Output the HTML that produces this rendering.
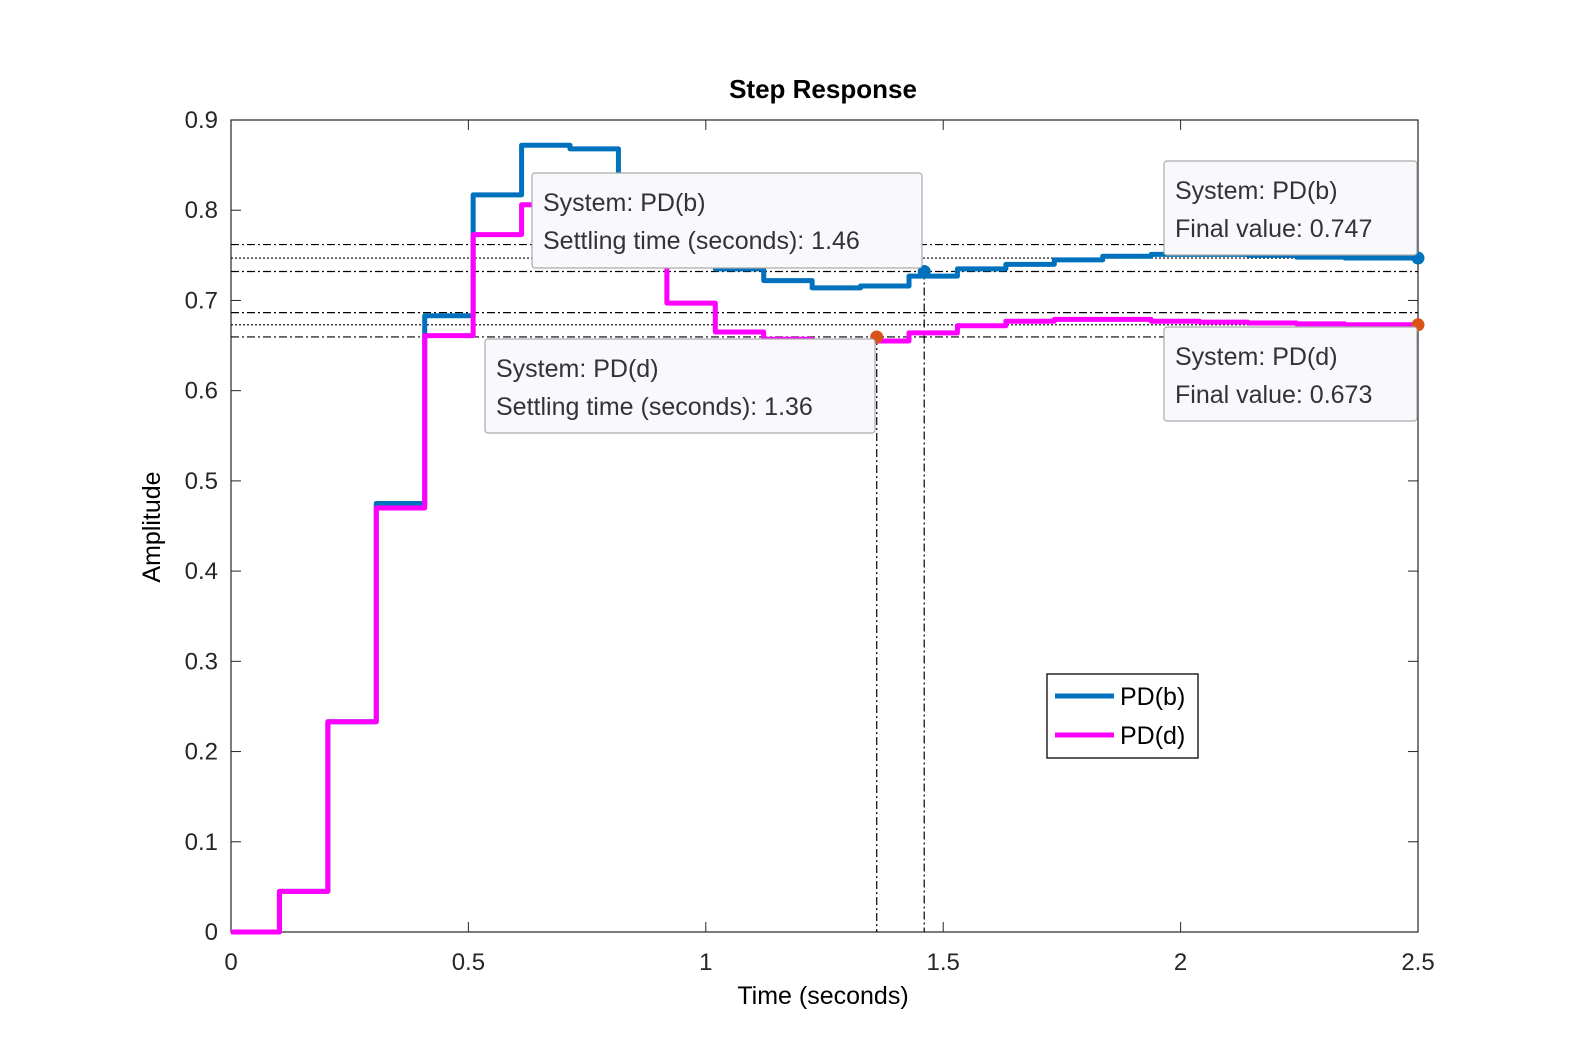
<!DOCTYPE html>
<html><head><meta charset="utf-8"><style>
html,body{margin:0;padding:0;background:#fff;width:1592px;height:1063px;overflow:hidden;font-family:"Liberation Sans",sans-serif}
svg{display:block}
svg text{font-family:"Liberation Sans",sans-serif}
</style></head><body>
<svg id="chart" width="1592" height="1063"></svg>
<script>
const Ts = 0.102;
const pdB = [0,0.045,0.233,0.475,0.683,0.817,0.872,0.868,0.80,0.76,0.735,0.722,0.714,0.716,0.727,0.735,0.740,0.745,0.749,0.751,0.751,0.750,0.748,0.747,0.747];
const pdD = [0,0.045,0.233,0.470,0.661,0.773,0.806,0.79,0.75,0.697,0.665,0.657,0.655,0.655,0.664,0.672,0.677,0.679,0.679,0.677,0.676,0.675,0.674,0.673,0.673];
const xTicks = [0,0.5,1,1.5,2,2.5];
const yTicks = [0,0.1,0.2,0.3,0.4,0.5,0.6,0.7,0.8,0.9];
const finalB = 0.747, finalD = 0.673, settleB = 1.46, settleD = 1.36;

const X0=231,X1=1418,Y0=932,Y1=120;
const sx=t=>X0+(t/2.5)*(X1-X0);
const sy=v=>Y0-(v/0.9)*(Y0-Y1);
const svg=document.getElementById('chart');
const NS='http://www.w3.org/2000/svg';
function mk(tag,attrs,parent){const e=document.createElementNS(NS,tag);for(const k in attrs)e.setAttribute(k,attrs[k]);(parent||svg).appendChild(e);return e;}

const box=mk('rect',{x:X0,y:Y1,width:X1-X0,height:Y0-Y1,fill:'#fff',stroke:'#262626','stroke-width':1.2});


xTicks.forEach(t=>{
  const x=sx(t);
  mk('line',{x1:x,y1:Y0,x2:x,y2:Y0-10,stroke:'#262626'});
  mk('line',{x1:x,y1:Y1,x2:x,y2:Y1+10,stroke:'#262626'});
  const tx=mk('text',{x:x,y:970,'font-size':24,fill:'#262626','text-anchor':'middle'});
  tx.textContent=String(t);
  
  
});
yTicks.forEach(v=>{
  const y=sy(v);
  mk('line',{x1:X0,y1:y,x2:X0+10,y2:y,stroke:'#262626'});
  mk('line',{x1:X1,y1:y,x2:X1-10,y2:y,stroke:'#262626'});
  const tx=mk('text',{x:218,y:y+8,'font-size':24,fill:'#262626','text-anchor':'end'});
  tx.textContent=String(v);
  
  
});

function hline(v,dash){mk('line',{x1:X0,y1:sy(v),x2:X1,y2:sy(v),stroke:'#000','stroke-width':1.2,'stroke-dasharray':dash});}
[[finalB*1.02,'8,3,2,3'],[finalB,'2,2'],[finalB*0.98,'8,3,2,3'],[finalD*1.02,'8,3,2,3'],[finalD,'2,2'],[finalD*0.98,'8,3,2,3']].forEach(a=>hline(a[0],a[1]));
function vline(t,v){mk('line',{x1:sx(t),y1:sy(v),x2:sx(t),y2:Y0,stroke:'#000','stroke-width':1.2,'stroke-dasharray':'8,3,2,3'});}
vline(settleD,finalD*0.98); vline(settleB,finalB*0.98);

function stairs(vals,color,name){
  let d='M'+sx(0)+','+sy(vals[0]);
  for(let k=0;k<vals.length;k++){
    const tEnd=Math.min((k+1)*Ts,2.5);
    d+=' L'+sx(k*Ts)+','+sy(vals[k])+' L'+sx(tEnd)+','+sy(vals[k]);
  }
  const p=mk('path',{d:d,fill:'none',stroke:color,'stroke-width':5,'stroke-linejoin':'round'});
  
  
}
stairs(pdB,'#0072BD','series-pd-b');
stairs(pdD,'#FF00FF','series-pd-d');

function dot(t,v,c,name){const e=mk('circle',{cx:sx(t),cy:sy(v),r:6.5,fill:c});}
dot(settleB,finalB*0.98,'#0072BD','settling-marker-b');
dot(settleD,finalD*0.98,'#D95319','settling-marker-d');
dot(2.5,finalB,'#0072BD','final-marker-b');
dot(2.5,finalD,'#D95319','final-marker-d');

function tip(x,y,w,h,l1,l2,name){
  const g=mk('g',{});
  
  
  mk('rect',{x:x,y:y,width:w,height:h,rx:3,fill:'#f8f8fd',stroke:'#aaa','stroke-width':1.2},g);
  const a=mk('text',{x:x+11,y:y+38,'font-size':25,fill:'#333'},g);a.textContent=l1;
  const b=mk('text',{x:x+11,y:y+76,'font-size':25,fill:'#333'},g);b.textContent=l2;
}
tip(532,173,390,95,'System: PD(b)','Settling time (seconds): 1.46','datatip-settling-b');
tip(485,339,390,94,'System: PD(d)','Settling time (seconds): 1.36','datatip-settling-d');
tip(1164,161,253,94,'System: PD(b)','Final value: 0.747','datatip-final-b');
tip(1164,327,253,94,'System: PD(d)','Final value: 0.673','datatip-final-d');

const lg=mk('g',{});


mk('rect',{x:1047,y:674,width:151,height:84,fill:'#fff',stroke:'#262626','stroke-width':1.5},lg);
mk('line',{x1:1055,y1:696,x2:1114,y2:696,stroke:'#0072BD','stroke-width':5},lg);
mk('line',{x1:1055,y1:735,x2:1114,y2:735,stroke:'#FF00FF','stroke-width':5},lg);
const l1=mk('text',{x:1120,y:705,'font-size':25,fill:'#000'},lg);l1.textContent='PD(b)';
const l2=mk('text',{x:1120,y:744,'font-size':25,fill:'#000'},lg);l2.textContent='PD(d)';

const title=mk('text',{x:823,y:98,'font-size':26,'font-weight':'bold','text-anchor':'middle',fill:'#000'});
title.textContent='Step Response';


const xl=mk('text',{x:823,y:1004,'font-size':25,'text-anchor':'middle',fill:'#000'});
xl.textContent='Time (seconds)';


const yl=mk('text',{x:0,y:0,'font-size':25,'text-anchor':'middle',fill:'#000',transform:'translate(160,527) rotate(-90)'});
yl.textContent='Amplitude';


</script>
</body></html>
